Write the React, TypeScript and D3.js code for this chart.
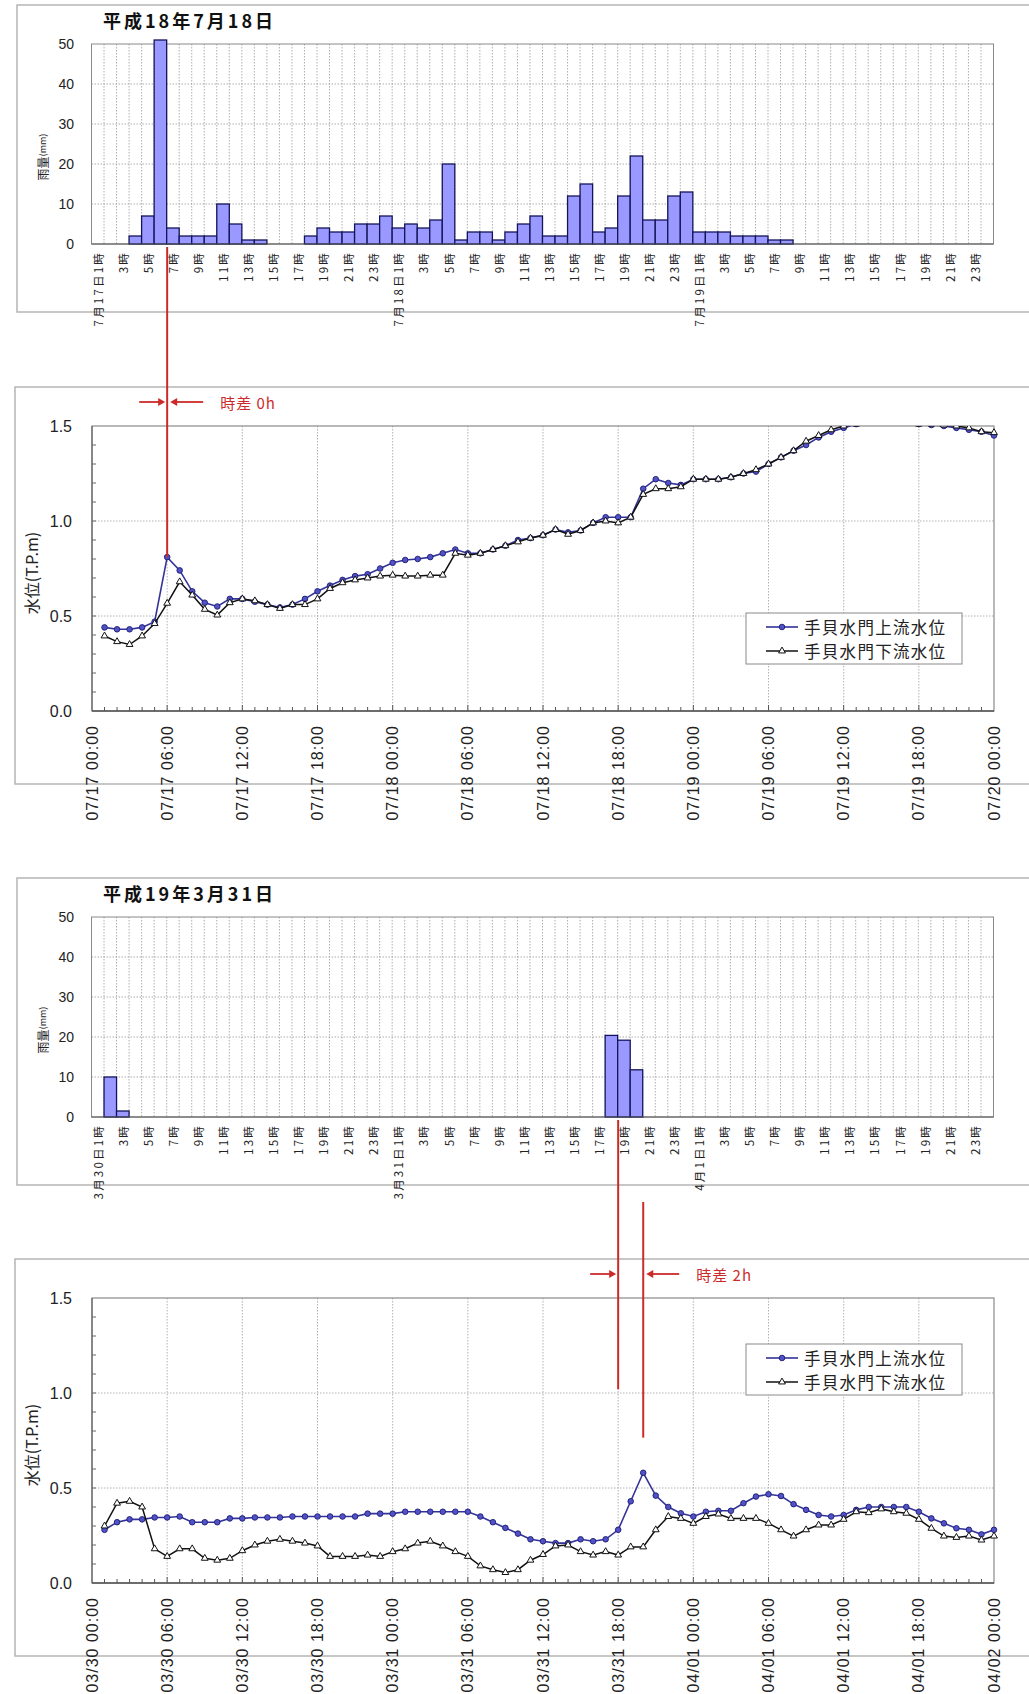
import React from "react";
import * as d3 from "d3";

// ---------- data ----------
const julyTitle = "平成18年7月18日";
const marchTitle = "平成19年3月31日";
const julyRainDays = ["7月17日", "7月18日", "7月19日"];
const marchRainDays = ["3月30日", "3月31日", "4月1日"];

// hourly rainfall (mm), category k = hour k+1 of each day
const julyRain = [
  0, 0, 0, 2, 7, 51, 4, 2, 2, 2, 10, 5, 1, 1, 0, 0, 0, 2, 4, 3, 3, 5, 5, 7,
  4, 5, 4, 6, 20, 1, 3, 3, 1, 3, 5, 7, 2, 2, 12, 15, 3, 4, 12, 22, 6, 6, 12, 13,
  3, 3, 3, 2, 2, 2, 1, 1, 0, 0, 0, 0, 0, 0, 0, 0, 0, 0, 0, 0, 0, 0, 0, 0,
];
const marchRain = [
  0, 10, 1.5, 0, 0, 0, 0, 0, 0, 0, 0, 0, 0, 0, 0, 0, 0, 0, 0, 0, 0, 0, 0, 0,
  0, 0, 0, 0, 0, 0, 0, 0, 0, 0, 0, 0, 0, 0, 0, 0, 0, 20.4, 19.2, 11.8, 0, 0, 0, 0,
  0, 0, 0, 0, 0, 0, 0, 0, 0, 0, 0, 0, 0, 0, 0, 0, 0, 0, 0, 0, 0, 0, 0, 0,
];
const rainTicks = [0, 10, 20, 30, 40, 50];
const levelTicks = [0, 0.5, 1.0, 1.5];

const julyTimeLabels = [
  "07/17 00:00", "07/17 06:00", "07/17 12:00", "07/17 18:00",
  "07/18 00:00", "07/18 06:00", "07/18 12:00", "07/18 18:00",
  "07/19 00:00", "07/19 06:00", "07/19 12:00", "07/19 18:00", "07/20 00:00",
];
const marchTimeLabels = [
  "03/30 00:00", "03/30 06:00", "03/30 12:00", "03/30 18:00",
  "03/31 00:00", "03/31 06:00", "03/31 12:00", "03/31 18:00",
  "04/01 00:00", "04/01 06:00", "04/01 12:00", "04/01 18:00", "04/02 00:00",
];

// hourly water levels (T.P.m), hour 1 .. 72
const julyUp = [
  0.44, 0.43, 0.43, 0.44, 0.47, 0.81, 0.74, 0.63, 0.57, 0.55,
  0.59, 0.59, 0.575, 0.56, 0.545, 0.56, 0.59, 0.63, 0.66, 0.69,
  0.71, 0.72, 0.75, 0.78, 0.795, 0.8, 0.81, 0.83, 0.85, 0.83,
  0.83, 0.85, 0.87, 0.9, 0.91, 0.925, 0.955, 0.94, 0.95, 0.99,
  1.02, 1.02, 1.02, 1.17, 1.22, 1.2, 1.19, 1.22, 1.22, 1.22,
  1.23, 1.25, 1.26, 1.3, 1.335, 1.37, 1.4, 1.44, 1.47, 1.49,
  1.51, 1.52, 1.53, 1.53, 1.52, 1.51, 1.505, 1.5, 1.49, 1.48,
  1.47, 1.45,
];
const julyDown = [
  0.395, 0.365, 0.35, 0.395, 0.46, 0.567, 0.68, 0.61, 0.535, 0.505,
  0.57, 0.59, 0.58, 0.56, 0.54, 0.56, 0.56, 0.59, 0.645, 0.675,
  0.69, 0.7, 0.71, 0.715, 0.71, 0.71, 0.715, 0.715, 0.83, 0.82,
  0.83, 0.85, 0.87, 0.89, 0.91, 0.925, 0.955, 0.93, 0.95, 0.99,
  1.0, 0.99, 1.02, 1.14, 1.17, 1.17, 1.18, 1.22, 1.22, 1.22,
  1.23, 1.25, 1.27, 1.3, 1.335, 1.37, 1.42, 1.45, 1.48, 1.5,
  1.51, 1.52, 1.53, 1.53, 1.52, 1.51, 1.51, 1.505, 1.5, 1.49,
  1.47, 1.465,
];
const marchUp = [
  0.28, 0.32, 0.335, 0.335, 0.345, 0.345, 0.35, 0.32, 0.32, 0.32,
  0.34, 0.34, 0.345, 0.345, 0.345, 0.35, 0.35, 0.35, 0.35, 0.35,
  0.35, 0.365, 0.365, 0.365, 0.375, 0.375, 0.375, 0.375, 0.375, 0.375,
  0.35, 0.32, 0.29, 0.26, 0.23, 0.22, 0.21, 0.21, 0.23, 0.22,
  0.23, 0.28, 0.43, 0.58, 0.46, 0.4, 0.367, 0.35, 0.375, 0.38,
  0.38, 0.42, 0.455, 0.467, 0.458, 0.415, 0.385, 0.358, 0.35, 0.358,
  0.385, 0.4, 0.4, 0.4, 0.4, 0.375, 0.34, 0.314, 0.288, 0.28,
  0.256, 0.28,
];
const marchDown = [
  0.3, 0.42, 0.43, 0.4, 0.18, 0.14, 0.18, 0.18, 0.13, 0.12,
  0.13, 0.17, 0.2, 0.22, 0.23, 0.22, 0.21, 0.195, 0.14, 0.14,
  0.14, 0.147, 0.14, 0.165, 0.18, 0.21, 0.22, 0.195, 0.165, 0.14,
  0.09, 0.07, 0.055, 0.07, 0.12, 0.15, 0.195, 0.2, 0.165, 0.147,
  0.165, 0.147, 0.19, 0.19, 0.28, 0.35, 0.34, 0.314, 0.35, 0.363,
  0.34, 0.34, 0.34, 0.314, 0.28, 0.247, 0.28, 0.305, 0.305, 0.335,
  0.375, 0.37, 0.39, 0.375, 0.367, 0.335, 0.288, 0.247, 0.24, 0.247,
  0.226, 0.247,
];
const seriesNames = ["手貝水門上流水位", "手貝水門下流水位"];

// time-lag annotations (hours)
const julyLag = { from: 6, to: 6, label: "時差 0h", fromEnd: 0.81, toEnd: 0.81 };
const marchLag = { from: 42, to: 44, label: "時差 2h", fromEnd: 1.02, toEnd: 0.765 };

// ---------- styles ----------
const JP = "'Noto Sans CJK JP', 'Noto Sans', sans-serif";
const LAT = "'Liberation Sans', Arial, sans-serif";
const RED = "#cc2a2a";
const BLUE = "#333399";

const PLOT_LEFT = 91.5;
const PLOT_RIGHT = 993.5;

function RainChart({ title, values, days, plotTop }: any) {
  const h = 200;
  const bottom = plotTop + h;
  const cats = d3.range(values.length);
  const x = d3.scaleBand<number>().domain(cats).range([PLOT_LEFT, PLOT_RIGHT]).paddingInner(0).paddingOuter(0);
  const y = d3.scaleLinear().domain([0, 50]).range([bottom, plotTop]);
  const bw = x.bandwidth();
  return (
    <g>
      <rect x={17} y={plotTop - 39} width={1040} height={307} fill="white" stroke="#b5b5b5" strokeWidth={1.5} />
      <text x={103} y={plotTop - 16} fontFamily={JP} fontWeight="bold" fontSize={18} letterSpacing={3} fill="#111">
        {title}
      </text>
      {cats.slice(1).map((k) => (
        <line key={"v" + k} x1={x(k)} x2={x(k)} y1={plotTop} y2={bottom} stroke="#9a9a9a" strokeWidth={0.8} strokeDasharray="1.5,1.5" />
      ))}
      {rainTicks.slice(1, -1).map((t) => (
        <line key={"h" + t} x1={PLOT_LEFT} x2={PLOT_RIGHT} y1={y(t)} y2={y(t)} stroke="#9a9a9a" strokeWidth={0.8} strokeDasharray="1.5,1.5" />
      ))}
      <rect x={PLOT_LEFT} y={plotTop} width={PLOT_RIGHT - PLOT_LEFT} height={h} fill="none" stroke="#8a8a8a" strokeWidth={1} />
      {values.map((v: number, k: number) =>
        v > 0 ? (
          <rect key={"b" + k} x={x(k)} y={y(v)} width={bw} height={bottom - y(v)} fill="#9999ff" stroke="#14145a" strokeWidth={1.3} />
        ) : null
      )}
      <line x1={PLOT_LEFT} x2={PLOT_RIGHT} y1={bottom} y2={bottom} stroke="#555" strokeWidth={1.2} />
      {rainTicks.map((t) => (
        <text key={"yt" + t} x={74} y={y(t)} textAnchor="end" dominantBaseline="central" fontFamily={LAT} fontSize={14} fill="#222">
          {t}
        </text>
      ))}
      <text transform={`translate(42,${plotTop + 113}) rotate(-90)`} textAnchor="middle" dominantBaseline="central" fontFamily={JP} fill="#222">
        <tspan fontSize={12}>雨量</tspan>
        <tspan fontSize={9}>(mm)</tspan>
      </text>
      {cats.map((k) => {
        const hr = (k % 24) + 1;
        if (hr % 2 === 0) return null;
        const label = (hr === 1 ? days[Math.floor(k / 24)] : "") + hr + "時";
        const cx = (x(k) as number) + bw / 2;
        return (
          <text key={"xl" + k} transform={`translate(${cx},${bottom + 7}) rotate(-90)`} textAnchor="end" dominantBaseline="central"
            fontFamily={JP} fontSize={11.5} letterSpacing={2.2} fill="#222">
            {label}
          </text>
        );
      })}
    </g>
  );
}

function LevelChart({ up, down, timeLabels, plotTop, legendTop, lag, rainBottom, clipId }: any) {
  const h = 285;
  const left = 92, right = 994;
  const bottom = plotTop + h;
  const x = d3.scaleLinear().domain([0, 72]).range([left, right]);
  const y = d3.scaleLinear().domain([0, 1.5]).range([bottom, plotTop]);
  const hours = d3.range(1, up.length + 1);
  const line = d3.line<number>().x((_, i) => x(i + 1)).y((d) => y(d));
  const tri = d3.symbol().type(d3.symbolTriangle).size(20)() as string;
  const majorHours = d3.range(0, 73, 6);
  const minorY = d3.range(0, 15).map((i) => i / 10);
  const fx = x(lag.from), tx = x(lag.to);
  const arrowY = plotTop - 24;
  return (
    <g>
      <rect x={15} y={plotTop - 39} width={1040} height={397} fill="white" stroke="#b5b5b5" strokeWidth={1.5} />
      <defs>
        <clipPath id={clipId}>
          <rect x={left - 6} y={plotTop} width={right - left + 12} height={h + 6} />
        </clipPath>
      </defs>
      {majorHours.slice(1, -1).map((hh) => (
        <line key={"v" + hh} x1={x(hh)} x2={x(hh)} y1={plotTop} y2={bottom} stroke="#a0a0a0" strokeWidth={0.8} strokeDasharray="1.5,1.5" />
      ))}
      {levelTicks.slice(1, -1).map((t) => (
        <line key={"h" + t} x1={left} x2={right} y1={y(t)} y2={y(t)} stroke="#a0a0a0" strokeWidth={0.8} strokeDasharray="1.5,1.5" />
      ))}
      <rect x={left} y={plotTop} width={right - left} height={h} fill="none" stroke="#8a8a8a" strokeWidth={1.2} />
      <line x1={left} x2={right} y1={bottom} y2={bottom} stroke="#555" strokeWidth={1.4} />
      <line x1={left} x2={left} y1={plotTop} y2={bottom} stroke="#666" strokeWidth={1.2} />
      {d3.range(1, 72).map((hh) => (
        <line key={"mt" + hh} x1={x(hh)} x2={x(hh)} y1={bottom} y2={bottom - (hh % 6 === 0 ? 6 : 4)} stroke="#555" strokeWidth={1} />
      ))}
      {minorY.slice(1).map((v) => (
        <line key={"my" + v} x1={left} x2={left + 4} y1={y(v)} y2={y(v)} stroke="#666" strokeWidth={1} />
      ))}
      <g clipPath={`url(#${clipId})`}>
        <path d={line(up) as string} fill="none" stroke={BLUE} strokeWidth={1.6} />
        {up.map((v: number, i: number) => (
          <circle key={"u" + i} cx={x(hours[i])} cy={y(v)} r={2.8} fill="#5252c8" stroke="#1c1c70" strokeWidth={0.9} />
        ))}
        <path d={line(down) as string} fill="none" stroke="#111" strokeWidth={1.5} />
        {down.map((v: number, i: number) => (
          <path key={"d" + i} d={tri} transform={`translate(${x(hours[i])},${y(v)})`} fill="white" stroke="#111" strokeWidth={1} />
        ))}
      </g>
      {levelTicks.map((t) => (
        <text key={"yt" + t} x={72} y={y(t)} textAnchor="end" dominantBaseline="central" fontFamily={LAT} fontSize={16} fill="#222">
          {t.toFixed(1)}
        </text>
      ))}
      <text transform={`translate(31,${plotTop + 147}) rotate(-90)`} textAnchor="middle" dominantBaseline="central" fontFamily={JP} fontSize={16} fill="#222">
        水位(T.P.m)
      </text>
      {majorHours.map((hh, i) => (
        <text key={"xl" + hh} transform={`translate(${x(hh)},${bottom + 14}) rotate(-90)`} textAnchor="end" dominantBaseline="central"
          fontFamily={LAT} fontSize={16} letterSpacing={1} fill="#222">
          {timeLabels[i]}
        </text>
      ))}
      <g transform={`translate(746,${legendTop})`}>
        <rect x={0} y={0} width={216} height={51} fill="white" stroke="#8a8a8a" strokeWidth={1} />
        <line x1={20} x2={52} y1={14} y2={14} stroke={BLUE} strokeWidth={1.6} />
        <circle cx={36} cy={14} r={2.8} fill="#5252c8" stroke="#1c1c70" strokeWidth={0.9} />
        <text x={58} y={14} dominantBaseline="central" fontFamily={JP} fontSize={16.5} letterSpacing={1.3} fill="#222">{seriesNames[0]}</text>
        <line x1={20} x2={52} y1={38} y2={38} stroke="#111" strokeWidth={1.5} />
        <path d={tri} transform="translate(36,38)" fill="white" stroke="#111" strokeWidth={1} />
        <text x={58} y={38} dominantBaseline="central" fontFamily={JP} fontSize={16.5} letterSpacing={1.3} fill="#222">{seriesNames[1]}</text>
      </g>
      <line x1={fx} x2={fx} y1={rainBottom + 3} y2={y(lag.fromEnd)} stroke={RED} strokeWidth={2} />
      {lag.to !== lag.from ? (
        <line x1={tx} x2={tx} y1={rainBottom + 85} y2={y(lag.toEnd)} stroke={RED} strokeWidth={2} />
      ) : null}
      <line x1={fx - 28} x2={fx - 6} y1={arrowY} y2={arrowY} stroke={RED} strokeWidth={1.8} />
      <path d={`M${fx - 2},${arrowY} L${fx - 9},${arrowY - 4} L${fx - 9},${arrowY + 4} Z`} fill={RED} />
      <line x1={tx + 36} x2={tx + 8} y1={arrowY} y2={arrowY} stroke={RED} strokeWidth={1.8} />
      <path d={`M${tx + 3},${arrowY} L${tx + 10},${arrowY - 4} L${tx + 10},${arrowY + 4} Z`} fill={RED} />
      <text x={tx + 53} y={arrowY} dominantBaseline="central" fontFamily={JP} fontSize={15} letterSpacing={1} fill={RED}>
        {lag.label}
      </text>
    </g>
  );
}

export default function App() {
  return (
    <div style={{ position: "absolute", left: 0, top: 0, width: 1029, height: 1694, overflow: "hidden", background: "white" }}>
      <svg width={1029} height={1694} viewBox="0 0 1029 1694" style={{ display: "block" }}>
        <rect x={0} y={0} width={1029} height={1694} fill="white" />
        <RainChart title={julyTitle} values={julyRain} days={julyRainDays} plotTop={44} />
        <LevelChart up={julyUp} down={julyDown} timeLabels={julyTimeLabels} plotTop={426} legendTop={613} lag={julyLag} rainBottom={244} clipId="clipJuly" />
        <RainChart title={marchTitle} values={marchRain} days={marchRainDays} plotTop={917} />
        <LevelChart up={marchUp} down={marchDown} timeLabels={marchTimeLabels} plotTop={1298} legendTop={1344} lag={marchLag} rainBottom={1117} clipId="clipMarch" />
      </svg>
    </div>
  );
}
